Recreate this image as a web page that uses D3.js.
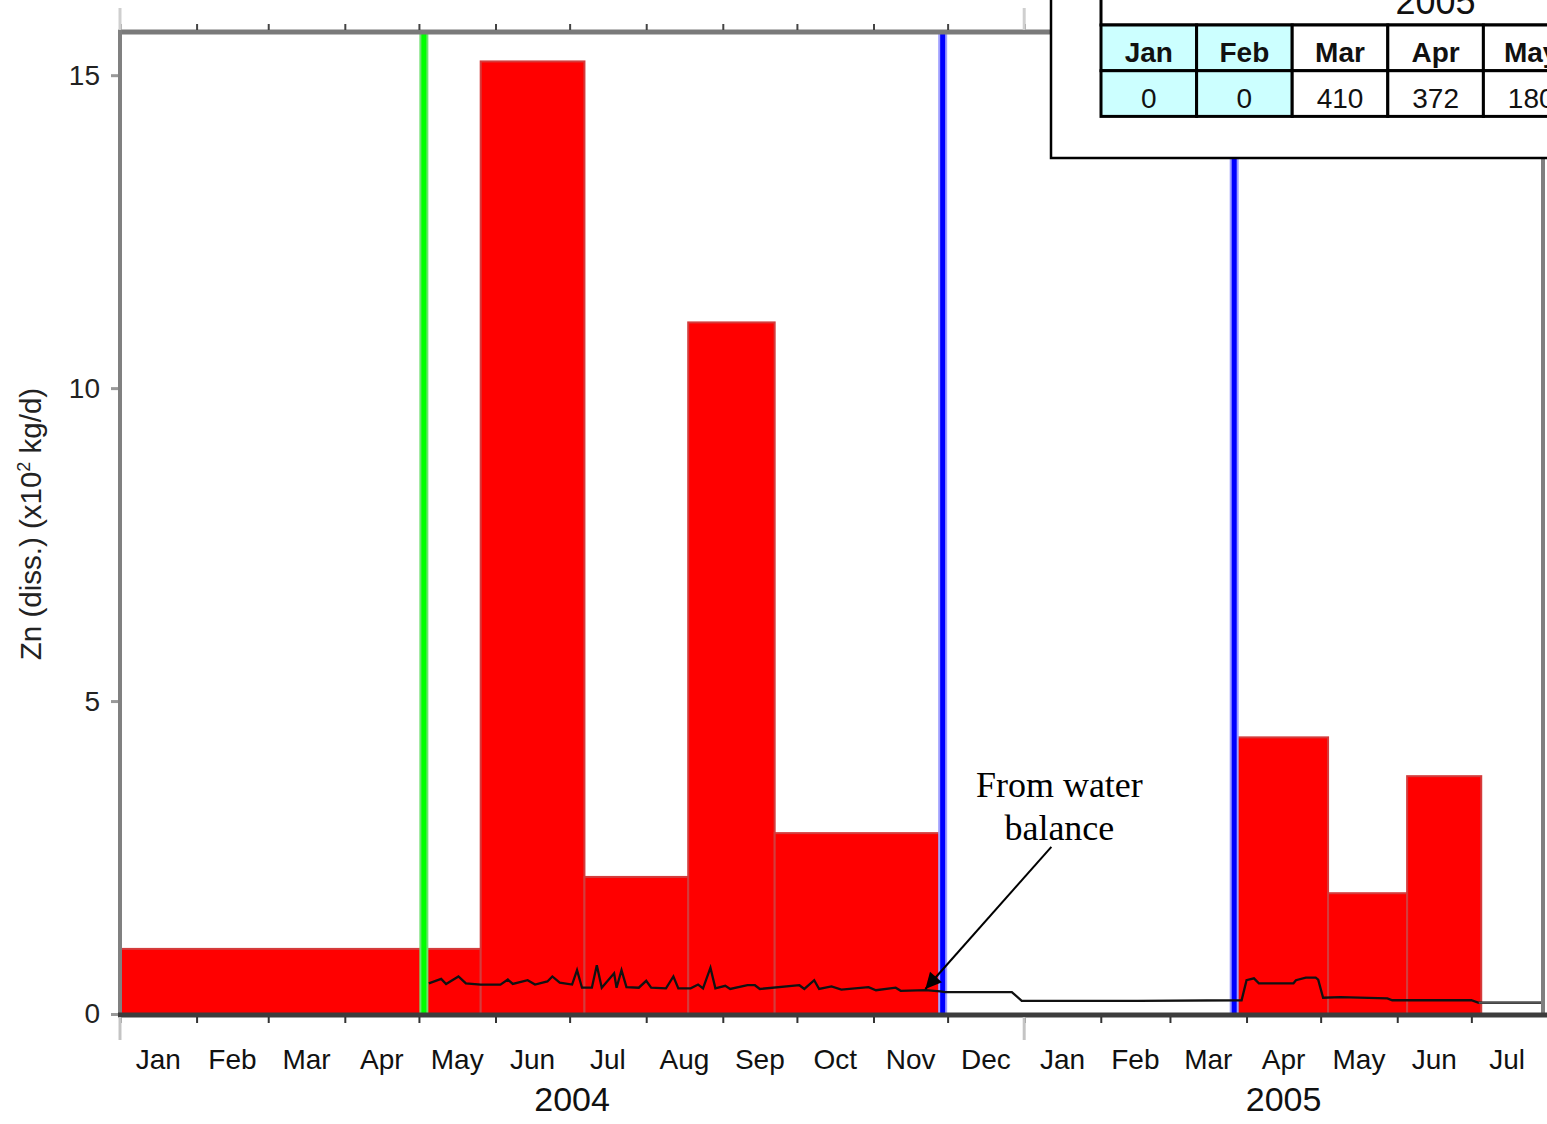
<!DOCTYPE html>
<html>
<head>
<meta charset="utf-8">
<script src="https://cdn.jsdelivr.net/npm/d3@7"></script>
<style>
body{margin:0;background:#fff}
svg{display:block;font-family:"Liberation Sans",Arial,sans-serif}
</style>
</head>
<body>
<svg></svg>
<script>
// monthly sampled loads (x10^2 kg/d)
var barStarts = ["2004-01-01","2004-05-26","2004-07-07","2004-08-18","2004-09-22","2005-03-28","2005-05-04","2005-06-05"];
var barEnds   = ["2004-05-26","2004-07-07","2004-08-18","2004-09-22","2004-11-28","2005-05-04","2005-06-05","2005-07-05"];
var barValues = [1.04, 15.22, 2.19, 11.05, 2.89, 4.42, 1.93, 3.80];

var greenDates = ["2004-05-03"];
var blueDates = ["2004-11-29","2005-03-27"];

// water balance estimate
var wbDates = ["2004-05-05","2004-05-10","2004-05-12","2004-05-17","2004-05-20","2004-05-26","2004-06-03","2004-06-06",
  "2004-06-08","2004-06-14","2004-06-17","2004-06-22","2004-06-24","2004-06-27","2004-07-02","2004-07-04","2004-07-06",
  "2004-07-10","2004-07-12","2004-07-14","2004-07-19","2004-07-20","2004-07-22","2004-07-24","2004-07-29","2004-08-01",
  "2004-08-03","2004-08-09","2004-08-12","2004-08-14","2004-08-19","2004-08-22","2004-08-24","2004-08-27","2004-08-29",
  "2004-09-02","2004-09-04","2004-09-11","2004-09-14","2004-09-16","2004-10-02","2004-10-04","2004-10-08","2004-10-10",
  "2004-10-15","2004-10-19","2004-10-30","2004-11-02","2004-11-10","2004-11-12","2004-11-22","2004-11-28","2004-11-30",
  "2004-12-27","2004-12-31","2005-02-16","2005-03-30","2005-04-01","2005-04-04","2005-04-06","2005-04-20","2005-04-21",
  "2005-04-25","2005-04-29","2005-04-30","2005-05-02","2005-05-09","2005-05-28","2005-05-30","2005-07-01","2005-07-04",
  "2005-07-30"];
var wbValues = [0.49,0.56,0.48,0.60,0.49,0.47,0.47,0.55,
  0.48,0.54,0.47,0.52,0.60,0.50,0.47,0.70,0.42,
  0.42,0.78,0.42,0.65,0.42,0.70,0.43,0.42,0.53,
  0.42,0.41,0.60,0.41,0.41,0.47,0.41,0.74,0.41,
  0.45,0.40,0.46,0.46,0.40,0.46,0.40,0.54,0.40,
  0.44,0.39,0.43,0.38,0.42,0.37,0.38,0.36,0.35,
  0.35,0.21,0.21,0.22,0.54,0.57,0.49,0.49,0.54,
  0.58,0.58,0.55,0.26,0.27,0.25,0.22,0.22,0.18,
  0.18];

var monthLabels = ["Jan","Feb","Mar","Apr","May","Jun","Jul","Aug","Sep","Oct","Nov","Dec",
                   "Jan","Feb","Mar","Apr","May","Jun","Jul"];
var yearLabels = ["2004","2005"];
var yTicks = [0, 5, 10, 15];

var tableYear = "2005";
var tableMonths = ["Jan","Feb","Mar","Apr","May"];
var tableValues = [0, 0, 410, 372, 180];

var parse = d3.timeParse("%Y-%m-%d");

var svg = d3.select("svg").attr("width",1547).attr("height",1124);

var x = d3.scaleTime()
          .domain([parse("2004-01-01"), parse("2005-07-30")])
          .range([120, 1543]);
var y = d3.scaleLinear().domain([0, 15.69]).range([1014, 32]);

// bars
svg.append("g")
   .selectAll("rect")
   .data(barValues)
   .enter()
   .append("rect")
   .attr("x", function(d,i){return x(parse(barStarts[i]))})
   .attr("width", function(d,i){return x(parse(barEnds[i])) - x(parse(barStarts[i]))})
   .attr("y", function(d){return y(d)})
   .attr("height", function(d){return y(0) - y(d)})
   .attr("fill","#ff0000")
   .attr("stroke","#d43c3c")
   .attr("stroke-width",2);

// vertical event lines
var drawV = function(dates, core, halo)
{
  var g = svg.append("g");
  dates.forEach(function(d){
    var xx = x(parse(d));
    g.append("line").attr("x1",xx).attr("x2",xx).attr("y1",y.range()[1]).attr("y2",y(0))
     .attr("stroke",halo).attr("stroke-width",9);
    g.append("line").attr("x1",xx).attr("x2",xx).attr("y1",y.range()[1]).attr("y2",y(0))
     .attr("stroke",core).attr("stroke-width",5);
  });
};
drawV(greenDates, "#00ff00", "#70e070");
drawV(blueDates, "#0000ff", "#a0a0ff");

// water balance line
var wb = wbDates.map(function(d,i){return {date:parse(d), v:wbValues[i]}});
var line = d3.line().x(function(d){return x(d.date)}).y(function(d){return y(d.v)});
svg.append("path").datum(wb).attr("d",line)
   .attr("fill","none").attr("stroke","#111").attr("stroke-width",2.3);
svg.append("path")
   .datum(wb.filter(function(d){return d.date >= parse("2005-02-16") && d.date <= parse("2005-03-27")}))
   .attr("d",line).attr("fill","none").attr("stroke","#9a9a9a").attr("stroke-width",2.5);
svg.append("path")
   .datum(wb.filter(function(d){return d.date >= parse("2005-07-04")}))
   .attr("d",line).attr("fill","none").attr("stroke","#555").attr("stroke-width",2);

// frame
var monthTicks = d3.timeMonth.range(x.domain()[0], d3.timeDay.offset(x.domain()[1],1));
var yearTicks = [parse("2004-01-01"), parse("2005-01-01")];

svg.append("line").attr("x1",118).attr("x2",1547).attr("y1",32).attr("y2",32)
   .attr("stroke","#7a7a7a").attr("stroke-width",5);
svg.append("line").attr("x1",120).attr("x2",120).attr("y1",30).attr("y2",1016)
   .attr("stroke","#808080").attr("stroke-width",4);
svg.append("line").attr("x1",1543).attr("x2",1543).attr("y1",30).attr("y2",1016)
   .attr("stroke","#808080").attr("stroke-width",4);
svg.append("line").attr("x1",118).attr("x2",1547).attr("y1",1015).attr("y2",1015)
   .attr("stroke","#3c3c3c").attr("stroke-width",5);

svg.append("g").attr("transform","translate(0,1017)")
   .call(d3.axisBottom(x).tickValues(monthTicks).tickSize(6).tickFormat(""))
   .call(function(g){g.select(".domain").remove();
     g.selectAll(".tick line").attr("stroke","#333").attr("stroke-width",2);});
svg.append("g").attr("transform","translate(0,30)")
   .call(d3.axisTop(x).tickValues(monthTicks).tickSize(6).tickFormat(""))
   .call(function(g){g.select(".domain").remove();
     g.selectAll(".tick line").attr("stroke","#444").attr("stroke-width",2);});

svg.append("g").selectAll("line").data(yearTicks).enter().append("line")
   .attr("x1",function(d){return x(d)}).attr("x2",function(d){return x(d)})
   .attr("y1",1017).attr("y2",1040).attr("stroke","#c4c4c4").attr("stroke-width",3);
svg.append("g").selectAll("line").data(yearTicks).enter().append("line")
   .attr("x1",function(d){return x(d)}).attr("x2",function(d){return x(d)})
   .attr("y1",8).attr("y2",30).attr("stroke","#cfcfcf").attr("stroke-width",3);

// y axis
svg.append("g").attr("transform","translate(118,0)")
   .call(d3.axisLeft(y).tickValues(yTicks).tickSize(7).tickPadding(11))
   .call(function(g){g.select(".domain").remove();
     g.selectAll(".tick line").attr("stroke","#999").attr("stroke-width",3);
     g.selectAll(".tick text").attr("font-size",28).attr("fill","#222")
      .attr("font-family","'Liberation Sans',Arial,sans-serif");});

var yl = svg.append("text").attr("transform","translate(41,524) rotate(-90)")
   .attr("text-anchor","middle").attr("font-size",29.5).attr("fill","#222");
yl.append("tspan").text("Zn (diss.) (x10");
yl.append("tspan").attr("font-size",18).attr("dy",-11).text("2");
yl.append("tspan").attr("dy",11).text(" kg/d)");

// month and year labels
var t0 = x.domain()[0], t1 = x.domain()[1];
svg.append("g").selectAll("text").data(monthLabels).enter().append("text")
   .attr("x",function(d,i){
     var s = d3.timeMonth.offset(t0,i);
     var e = d3.min([d3.timeMonth.offset(t0,i+1), t1]);
     return (x(s)+x(e))/2;})
   .attr("y",1069).attr("text-anchor","middle").attr("font-size",28).attr("fill","#111")
   .text(function(d){return d});
svg.append("g").selectAll("text").data(yearLabels).enter().append("text")
   .attr("x",function(d,i){
     var s = d3.timeYear.offset(t0,i);
     var e = d3.min([d3.timeYear.offset(t0,i+1), t1]);
     return (x(s)+x(e))/2;})
   .attr("y",1111).attr("text-anchor","middle").attr("font-size",34).attr("fill","#111")
   .text(function(d){return d});

// annotation
var tip = [x(parse("2004-11-22")), y(0.40)];
var tail = [x(parse("2005-01-12")), y(2.67)];
svg.append("defs").append("marker").attr("id","ah")
   .attr("viewBox","0 0 10 10").attr("refX",10).attr("refY",5)
   .attr("markerWidth",11).attr("markerHeight",8).attr("markerUnits","strokeWidth")
   .attr("orient","auto")
   .append("path").attr("d","M0,0L10,5L0,10z").attr("fill","#000");
svg.append("line").attr("x1",tail[0]).attr("y1",tail[1]).attr("x2",tip[0]).attr("y2",tip[1])
   .attr("stroke","#000").attr("stroke-width",2).attr("marker-end","url(#ah)");
["From water","balance"].forEach(function(t,i){
  svg.append("text").attr("x",tail[0]+8).attr("y",tail[1]-50+i*43)
     .attr("text-anchor","middle").attr("font-family","'Liberation Serif','Times New Roman',serif")
     .attr("font-size",36).attr("fill","#000").text(t);
});

// inset table
var tx0 = 1101, colW = 95.6, hTop = 25, rowH = 45.7;
svg.append("rect").attr("x",1051).attr("y",-10).attr("width",520).attr("height",168)
   .attr("fill","#fff").attr("stroke","#000").attr("stroke-width",2.5);
svg.append("rect").attr("x",tx0).attr("y",-40).attr("width",7*colW).attr("height",40+hTop)
   .attr("fill","#fff").attr("stroke","#000").attr("stroke-width",3);
svg.append("text").attr("x",tx0+3.5*colW).attr("y",14).attr("text-anchor","middle")
   .attr("font-size",36).attr("fill","#111").text(tableYear);

var cells = svg.append("g").selectAll("g").data(tableMonths).enter().append("g");
cells.append("rect").attr("x",function(d,i){return tx0+i*colW}).attr("y",hTop)
   .attr("width",colW).attr("height",rowH)
   .attr("fill",function(d,i){return i<2?"#ccffff":"#fff"})
   .attr("stroke","#000").attr("stroke-width",3);
cells.append("rect").attr("x",function(d,i){return tx0+i*colW}).attr("y",hTop+rowH)
   .attr("width",colW).attr("height",rowH)
   .attr("fill",function(d,i){return i<2?"#ccffff":"#fff"})
   .attr("stroke","#000").attr("stroke-width",3);
cells.append("text").attr("x",function(d,i){return tx0+(i+0.5)*colW}).attr("y",hTop+37)
   .attr("text-anchor","middle").attr("font-size",28).attr("font-weight","bold").attr("fill","#111")
   .text(function(d){return d});
cells.append("text").attr("x",function(d,i){return tx0+(i+0.5)*colW}).attr("y",hTop+rowH+37)
   .attr("text-anchor","middle").attr("font-size",28).attr("fill","#111")
   .text(function(d,i){return tableValues[i]});
</script>
</body>
</html>
